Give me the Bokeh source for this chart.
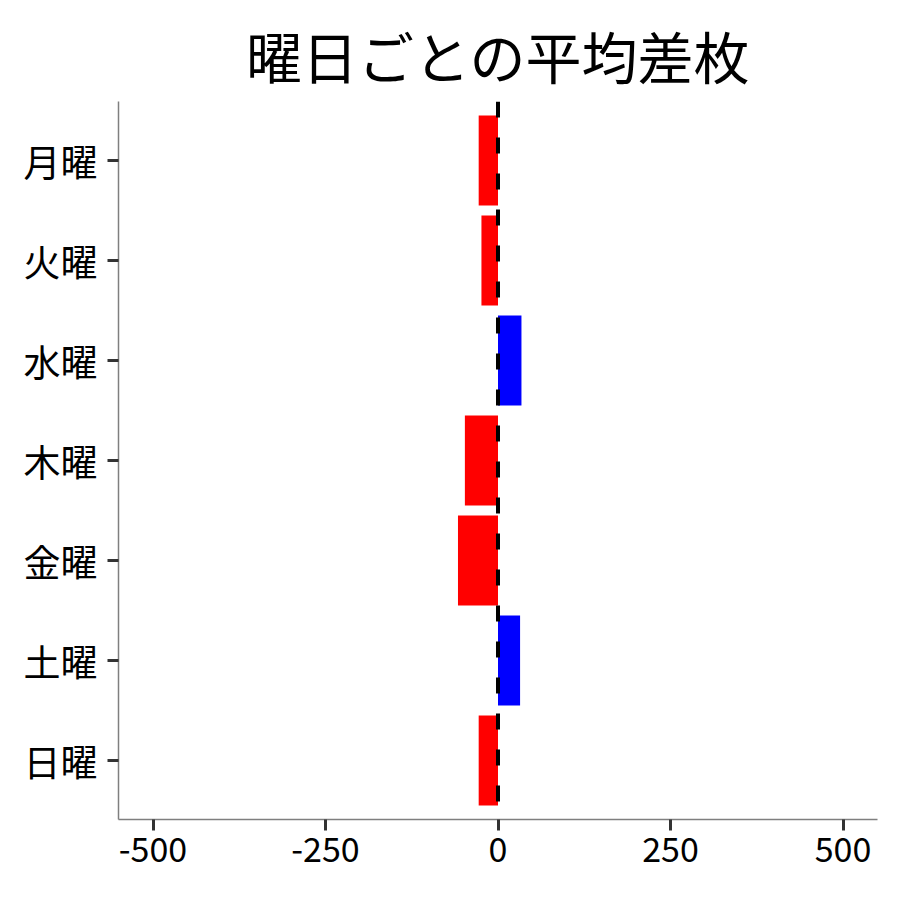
from bokeh.plotting import figure
from bokeh.models import Range1d, FixedTicker, Span, ColumnDataSource
from bokeh.embed import file_html
from bokeh.resources import INLINE

# data
days = ["月曜", "火曜", "水曜", "木曜", "金曜", "土曜", "日曜"]
avg_diff = [-28, -24, 34, -48, -58, 32, -28]
x_ticks = [-500, -250, 0, 250, 500]

FONT = "Noto Sans CJK JP"

idx = list(range(len(days)))
colors = ["#0000ff" if v > 0 else "#ff0000" for v in avg_diff]
src = ColumnDataSource(dict(y=idx, right=avg_diff, left=[0] * len(days), color=colors))

p = figure(width=900, height=900, output_backend="svg", toolbar_location=None,
           x_range=Range1d(-550, 550),
           y_range=Range1d(len(days) - 1 + 0.59, -0.59),
           title="曜日ごとの平均差枚",
           min_border_left=118, min_border_right=23, min_border_top=101, min_border_bottom=81)

p.hbar(y="y", left="left", right="right", height=0.9, color="color", line_color=None, source=src)

zero = Span(location=0, dimension="height", line_color="black", line_width=4, line_dash="16 20")
p.add_layout(zero)

p.title.text_font = FONT
p.title.text_font_size = "56px"
p.title.text_font_style = "normal"
p.title.align = "center"
p.title.text_color = "black"
p.title.vertical_align = "top"
p.title.standoff = 10

p.outline_line_color = None
p.grid.visible = False

for ax in (p.xaxis[0], p.yaxis[0]):
    ax.axis_line_color = "#7f7f7f"
    ax.axis_line_width = 1.5
    ax.major_tick_line_color = "#333333"
    ax.major_tick_line_width = 3
    ax.major_tick_in = 0
    ax.major_tick_out = 11
    ax.minor_tick_line_color = None
    ax.major_label_text_font = FONT
    ax.major_label_text_color = "black"

p.xaxis.ticker = FixedTicker(ticks=x_ticks)
p.xaxis.major_label_overrides = {t: str(t) for t in x_ticks}
p.xaxis.major_label_standoff = 6
p.xaxis.major_label_text_font_size = "34px"

p.yaxis.ticker = FixedTicker(ticks=idx)
p.yaxis.major_label_overrides = {i: d for i, d in zip(idx, days)}
p.yaxis.major_label_standoff = 10
p.yaxis.major_label_text_font_size = "37px"

open("out.html", "w").write(file_html(p, INLINE))
